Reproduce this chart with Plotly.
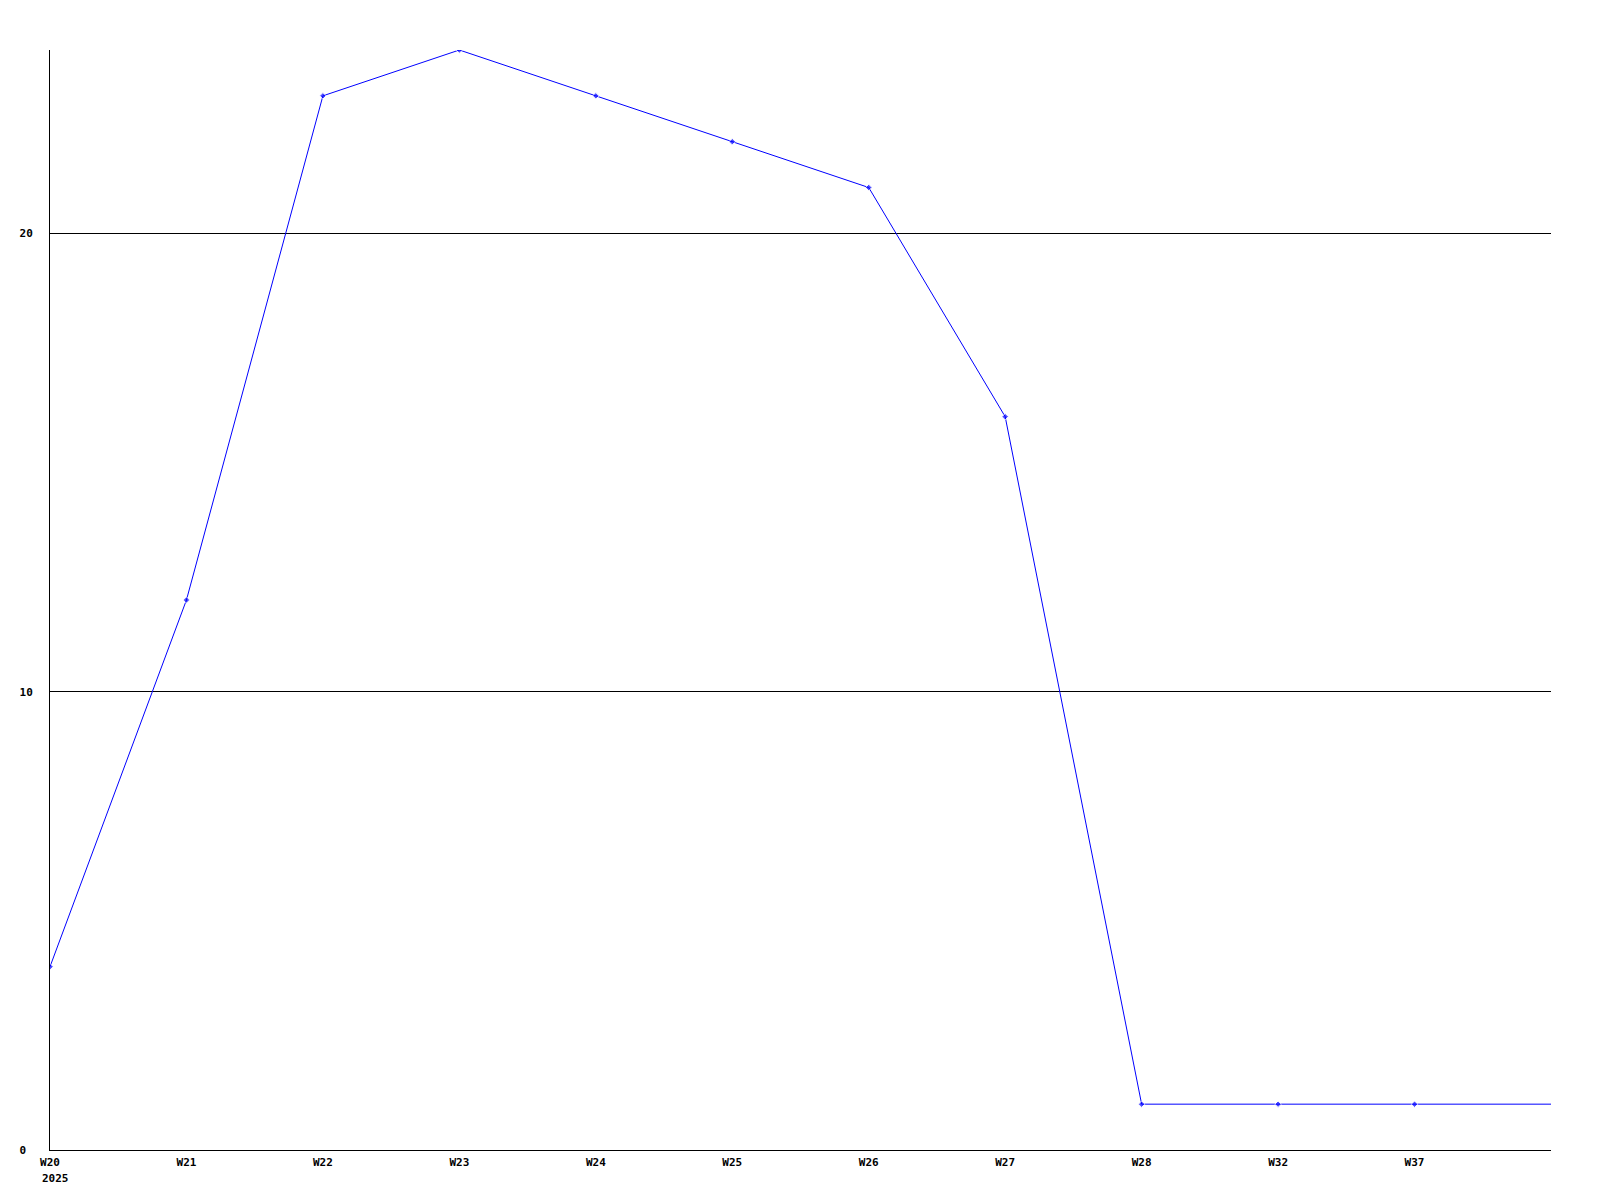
import plotly.graph_objects as go

weeks = ["W20", "W21", "W22", "W23", "W24", "W25", "W26", "W27", "W28", "W32", "W37", ""]
values = [4, 12, 23, 24, 23, 22, 21, 16, 1, 1, 1, 1]
year_label = "2025"
y_ticks = [0, 10, 20]

xpos = list(range(len(weeks)))
marker_sizes = [5] * (len(weeks) - 1) + [0]

fig = go.Figure()
fig.add_trace(go.Scatter(
    x=xpos, y=values, mode="lines+markers",
    line=dict(color="#0000FF", width=1),
    marker=dict(symbol="diamond", size=marker_sizes, color="#0000FF"),
    hoverinfo="skip", showlegend=False,
))

font = dict(family="DejaVu Sans Mono", size=11, color="#000000")

# left-align y tick labels by padding to a common width (monospace font)
y_text = [str(v) for v in y_ticks]
w = max(len(t) for t in y_text)
y_text = ["<b>%s</b>" % (t + "\u00a0" * (w - len(t))) for t in y_text]

fig.update_layout(
    width=1592, height=1192,
    margin=dict(l=42, r=49, t=42, b=50, autoexpand=False),
    paper_bgcolor="white", plot_bgcolor="white",
    font=font,
    xaxis=dict(
        range=[0, len(weeks) - 1],
        tickmode="array", tickvals=xpos, ticktext=["<b>%s</b>" % w_ for w_ in weeks],
        showgrid=False, zeroline=False,
        showline=True, linecolor="black", linewidth=1,
        ticks="outside", ticklen=2, tickcolor="rgba(0,0,0,0)", tickfont=font,
        automargin=False,
    ),
    yaxis=dict(
        range=[0, 24],
        tickmode="array", tickvals=y_ticks, ticktext=y_text,
        showgrid=True, gridcolor="black", gridwidth=1,
        zeroline=False,
        showline=True, linecolor="black", linewidth=1,
        ticks="outside", ticklen=14, tickcolor="rgba(0,0,0,0)",
        tickfont=font, automargin=False,
    ),
)

fig.add_annotation(
    x=0, y=0, xref="x", yref="y", text="<b>%s</b>" % year_label,
    showarrow=False, xanchor="left", yanchor="top",
    xshift=-10, yshift=-20, font=font,
)

fig.write_html("out.html")
